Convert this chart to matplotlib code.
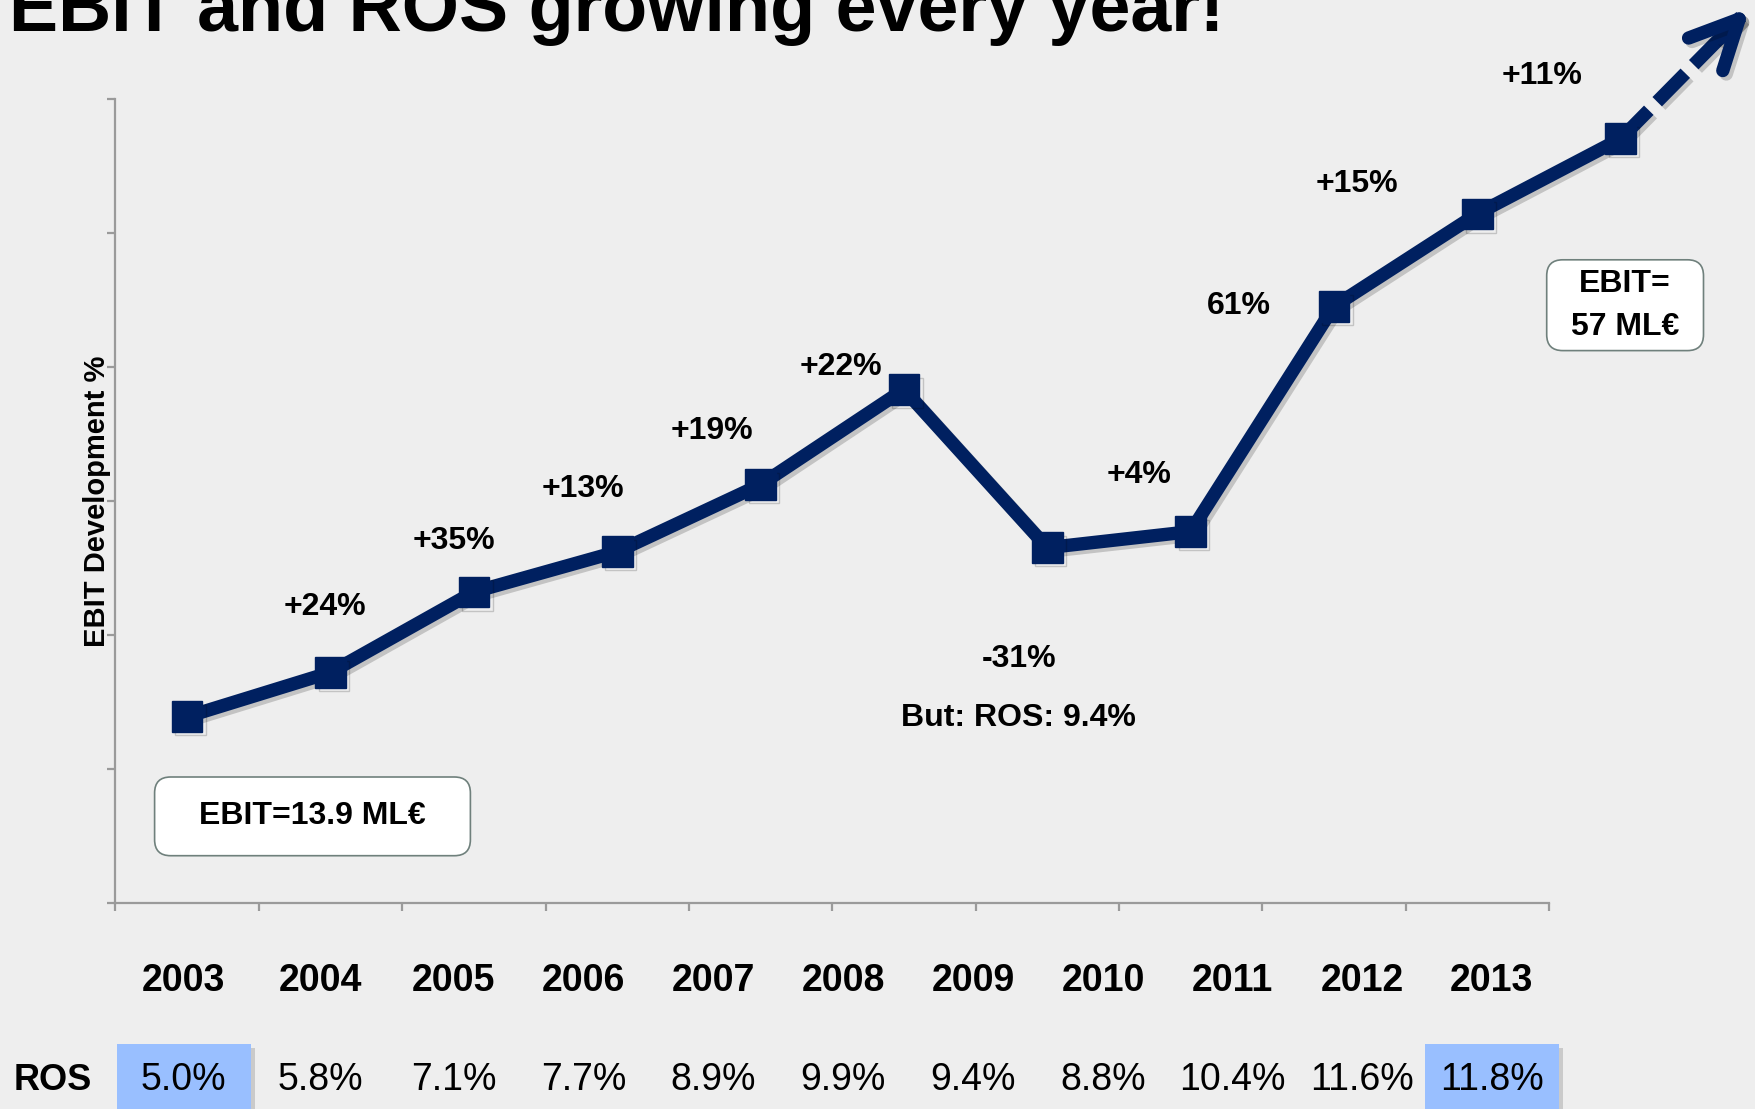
import matplotlib
matplotlib.use('Agg')
import matplotlib.pyplot as plt
import matplotlib.patheffects as pe
from matplotlib.patches import FancyBboxPatch, Rectangle

plt.rcParams['font.family'] = ['Liberation Sans', 'DejaVu Sans']

# EBIT in ML€ per year
years = ['2003', '2004', '2005', '2006', '2007', '2008', '2009', '2010', '2011', '2012', '2013']
ebit = [13.9, 17.2, 23.2, 26.2, 31.2, 38.3, 26.5, 27.7, 44.5, 51.4, 57.0]
growth = ['+24%', '+35%', '+13%', '+19%', '+22%', '-31%', '+4%', '61%', '+15%', '+11%']
ros = ['5.0%', '5.8%', '7.1%', '7.7%', '8.9%', '9.9%', '9.4%', '8.8%', '10.4%', '11.6%', '11.8%']
highlight = ['2003', '2013']

# where the growth labels sit (data coords)
growth_pos = [(1.46, 22.1), (2.36, 27.0), (3.26, 30.9), (4.16, 35.2), (5.06, 40.0),
              (6.30, 18.2), (7.14, 31.9), (7.84, 44.5), (8.66, 53.6), (9.95, 61.7)]
# column centres of the year / ROS rows, in pixels
col_px = [183.7, 320.3, 453.6, 583.5, 713.4, 843.4, 973.3, 1103.2, 1232.0, 1361.9, 1491.8]

NAVY = '#002060'
BG = '#eeeeee'
GRAY = '#9a9a9a'

W, H = 1756, 1109
fig = plt.figure(figsize=(W / 100, H / 100), dpi=100, facecolor=BG)
ax = fig.add_axes([115.5 / W, 206 / H, 1433.5 / W, 804.5 / H])
ax.set_facecolor(BG)

x = [i + 0.5 for i in range(len(years))]
shadow = [pe.SimpleLineShadow(offset=(2.5, -2.5), shadow_color='k', alpha=0.18), pe.Normal()]
ax.plot(x, ebit, color=NAVY, lw=9.6, marker='s', ms=22, solid_joinstyle='miter',
        clip_on=False, zorder=4, path_effects=shadow)

# dashed trend arrow out of the last point
tip = (11.40, 66.75)
ax.plot([x[-1], tip[0] - 0.06], [ebit[-1], tip[1] - 0.65], color=NAVY, lw=9.6,
        dashes=(3.0, 0.9), dash_capstyle='butt', clip_on=False, zorder=3, path_effects=shadow)
ax.annotate('', xy=tip, xytext=(tip[0] - 0.2, tip[1] - 2.25),
            arrowprops=dict(arrowstyle='->,head_length=35,head_width=17', mutation_scale=1,
                            color=NAVY, lw=9.6, capstyle='round', joinstyle='round',
                            shrinkA=0, shrinkB=0, path_effects=shadow),
            annotation_clip=False, zorder=3)

for txt, (gx, gy) in zip(growth, growth_pos):
    ax.text(gx, gy, txt, ha='center', va='center', fontsize=23, fontweight='bold')
ax.text(6.30, 13.8, 'But: ROS: 9.4%', ha='center', va='center', fontsize=23, fontweight='bold')

ax.set_xlim(0, 10)
ax.set_ylim(0, 60)
ax.set_xticks(range(11))
ax.set_yticks(range(0, 61, 10))
ax.set_xticklabels([])
ax.set_yticklabels([])
for s in ['top', 'right']:
    ax.spines[s].set_visible(False)
for s in ['left', 'bottom']:
    ax.spines[s].set_color(GRAY)
    ax.spines[s].set_linewidth(1.6)
ax.tick_params(length=6, width=1.6, color=GRAY)

fig.text(97.5 / W, 1 - 501 / H, 'EBIT Development %', rotation=90,
         ha='center', va='center', fontsize=21, fontweight='bold')

# rounded callout boxes
inch = fig.dpi_scale_trans
box1 = FancyBboxPatch((1.546, 2.533), 3.158, 0.787, boxstyle='round,pad=0,rounding_size=0.16',
                      transform=inch, fc='white', ec='#6f807c', lw=1.2, zorder=5)
box2 = FancyBboxPatch((15.467, 7.584), 1.568, 0.908, boxstyle='round,pad=0,rounding_size=0.16',
                      transform=inch, fc='white', ec='#6f807c', lw=1.2, zorder=5)
fig.patches.extend([box1, box2])
fig.text((1.546 + 3.158 / 2) * 100 / W, (2.533 + 0.787 / 2) * 100 / H, 'EBIT=13.9 ML€',
         ha='center', va='center', fontsize=23, fontweight='bold', zorder=6)
fig.text((15.467 + 1.568 / 2) * 100 / W, (7.584 + 0.908 / 2) * 100 / H, 'EBIT=\n57 ML€',
         ha='center', va='center', fontsize=23, fontweight='bold', linespacing=1.55, zorder=6)

# title, partly above the top edge
fig.text(9 / W, 1 - 31 / H, 'EBIT and ROS growing every year!', ha='left', va='baseline',
         fontsize=53, fontweight='bold')

# year row and ROS row
year_y = 1 - 981 / H
ros_y = 1 - 1080 / H
cw = 134 / W
for yr, r, px in zip(years, ros, col_px):
    cx = px / W
    fig.text(cx, year_y, yr, ha='center', va='center', fontsize=27, fontweight='bold')
    fig.text(cx, ros_y, r, ha='center', va='center', fontsize=27, zorder=6)
    if yr in highlight:
        fig.patches.append(Rectangle((cx - cw / 2 + 4 / W, -0.01), cw, 61 / H + 0.01,
                                     transform=fig.transFigure, fc='#888888', alpha=0.35,
                                     ec='none', zorder=4))
        fig.patches.append(Rectangle((cx - cw / 2, -0.01), cw, 65 / H + 0.01,
                                     transform=fig.transFigure, fc='#99bfff', ec='none', zorder=5))
fig.text(52.6 / W, ros_y, 'ROS', ha='center', va='center', fontsize=26, fontweight='bold')

fig.savefig('out.png', dpi=100, facecolor=fig.get_facecolor())
